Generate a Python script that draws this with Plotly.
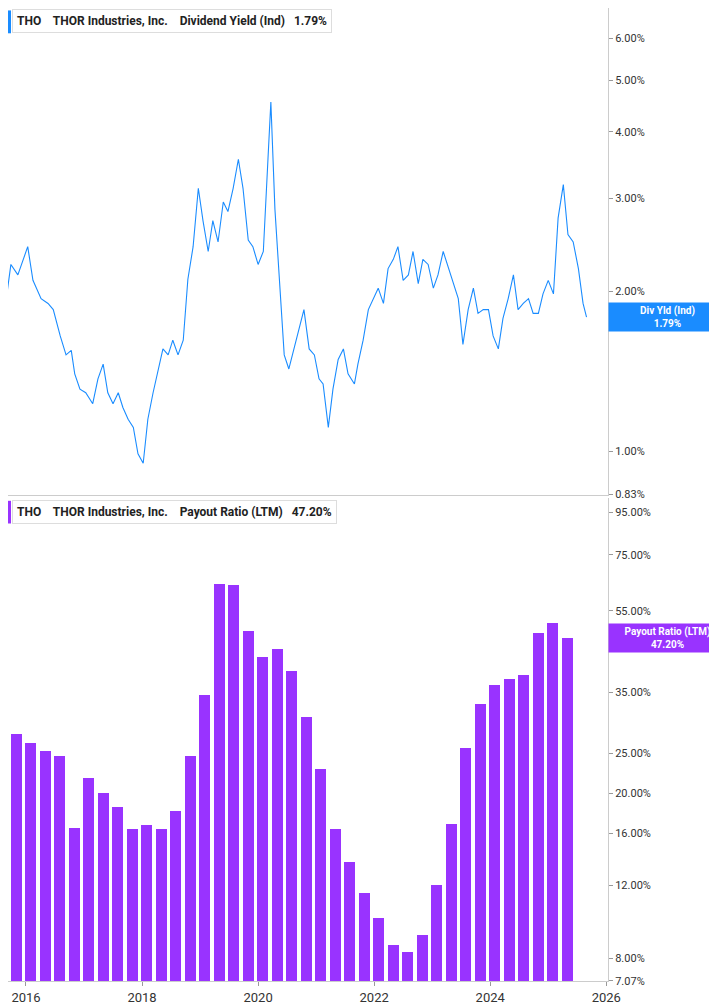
import plotly.graph_objects as go
from plotly.subplots import make_subplots

# dividend yield (%)
yield_dates = [2015.66, 2015.74, 2015.86, 2016.03, 2016.12, 2016.26, 2016.38, 2016.47, 2016.59, 2016.69,
               2016.78, 2016.84, 2016.93, 2017.03, 2017.15, 2017.24, 2017.33, 2017.41, 2017.50, 2017.59,
               2017.67, 2017.76, 2017.85, 2017.93, 2018.02, 2018.10, 2018.19, 2018.28, 2018.36, 2018.45,
               2018.53, 2018.62, 2018.71, 2018.79, 2018.88, 2018.97, 2019.05, 2019.14, 2019.22, 2019.31,
               2019.40, 2019.48, 2019.57, 2019.66, 2019.74, 2019.83, 2019.91, 2020.00, 2020.09, 2020.17,
               2020.22, 2020.29, 2020.38, 2020.45, 2020.53, 2020.62, 2020.71, 2020.79, 2020.88, 2020.97,
               2021.05, 2021.12, 2021.21, 2021.29, 2021.38, 2021.47, 2021.55, 2021.66, 2021.72, 2021.81,
               2021.90, 2021.98, 2022.07, 2022.16, 2022.24, 2022.33, 2022.41, 2022.50, 2022.59, 2022.67,
               2022.76, 2022.84, 2022.93, 2023.02, 2023.10, 2023.19, 2023.28, 2023.36, 2023.45, 2023.53,
               2023.62, 2023.71, 2023.79, 2023.88, 2023.97, 2024.05, 2024.14, 2024.22, 2024.31, 2024.40,
               2024.48, 2024.57, 2024.66, 2024.74, 2024.83, 2024.91, 2025.00, 2025.09, 2025.17, 2025.26,
               2025.34, 2025.43, 2025.52, 2025.60, 2025.66]
yield_pct = [1.94, 2.25, 2.15, 2.43, 2.10, 1.94, 1.90, 1.85, 1.65, 1.52,
             1.55, 1.40, 1.31, 1.29, 1.23, 1.37, 1.46, 1.29, 1.23, 1.29,
             1.21, 1.15, 1.11, 0.99, 0.95, 1.15, 1.29, 1.43, 1.56, 1.52,
             1.62, 1.52, 1.62, 2.11, 2.43, 3.13, 2.72, 2.38, 2.72, 2.48,
             2.95, 2.83, 3.13, 3.55, 3.13, 2.50, 2.43, 2.25, 2.38, 3.55,
             4.55, 2.86, 2.03, 1.52, 1.43, 1.56, 1.70, 1.85, 1.56, 1.52,
             1.37, 1.34, 1.11, 1.31, 1.49, 1.56, 1.40, 1.34, 1.46, 1.62,
             1.85, 1.94, 2.03, 1.90, 2.21, 2.30, 2.43, 2.10, 2.15, 2.38,
             2.07, 2.30, 2.25, 2.03, 2.15, 2.38, 2.21, 2.07, 1.94, 1.59,
             1.85, 2.03, 1.82, 1.85, 1.85, 1.65, 1.56, 1.78, 1.94, 2.15,
             1.85, 1.90, 1.94, 1.82, 1.82, 1.98, 2.10, 1.98, 2.75, 3.18,
             2.56, 2.48, 2.21, 1.90, 1.79]

# payout ratio (%), quarterly
payout_dates = [2015.83 + 0.25 * i for i in range(39)]
payout_pct = [27.7, 26.3, 25.2, 24.5, 16.5, 21.7, 20.0, 18.5, 16.4, 16.7,
              16.4, 18.1, 24.6, 34.5, 63.5, 63.2, 49.2, 42.4, 44.5, 39.4,
              30.5, 22.8, 16.4, 13.6, 11.5, 10.0, 8.6, 8.3, 9.1, 12.0,
              16.8, 25.6, 32.8, 36.3, 37.7, 38.4, 48.4, 51.4, 47.2]

top_ticks = [0.83, 1, 2, 3, 4, 5, 6]
bot_ticks = [7.07, 8, 12, 16, 20, 25, 35, 55, 75, 95]
year_ticks = [2016, 2018, 2020, 2022, 2024, 2026]

BLUE = "#1a8cff"
PURPLE = "#9933ff"

fig = make_subplots(rows=2, cols=1, shared_xaxes=True)
fig.add_trace(go.Scatter(x=yield_dates, y=yield_pct, mode="lines",
                         line=dict(color=BLUE, width=1.1)), row=1, col=1)
fig.add_trace(go.Bar(x=payout_dates, y=payout_pct, width=0.19,
                     marker=dict(color=PURPLE, line_width=0)), row=2, col=1)

fig.update_xaxes(range=[2015.69, 2026.03], tickvals=year_ticks, showgrid=False,
                 zeroline=False, showline=True, linecolor="#cccccc", ticks="outside",
                 ticklen=4, tickcolor="#999", tickfont=dict(size=13, color="#333"))
fig.update_xaxes(showticklabels=False, ticks="", row=1, col=1)

axis_common = dict(type="log", side="right", showgrid=False, zeroline=False,
                   showline=True, linecolor="#cccccc", ticks="outside", ticklen=4,
                   tickcolor="#999", tickfont=dict(size=11, color="#333"))
fig.update_yaxes(**axis_common, range=[-0.081, 0.835], tickvals=top_ticks, domain=[0.5, 1],
                 ticktext=[f"{v:.2f}%" for v in top_ticks], row=1, col=1)
fig.update_yaxes(**axis_common, range=[0.849, 2.011], tickvals=bot_ticks, domain=[0, 0.496],
                 ticktext=[f"{v:.2f}%" for v in bot_ticks], row=2, col=1)

# header boxes
for yref, title, color in [("y domain", "Dividend Yield (Ind)   1.79%", BLUE),
                           ("y2 domain", "Payout Ratio (LTM)   47.20%", PURPLE)]:
    fig.add_annotation(xref="paper", yref=yref, x=0.006, y=0.997, xanchor="left", yanchor="top",
                       text=f"<b>THO    THOR Industries, Inc.    {title}</b>", showarrow=False,
                       font=dict(size=12, color="#222"), bgcolor="white",
                       bordercolor="#dddddd", borderwidth=1, borderpad=4)
    fig.add_shape(type="rect", xref="paper", yref=yref, x0=0.0, x1=0.005,
                  y0=0.948, y1=0.995, fillcolor=color, line_width=0)

# value tags on right axis
fig.add_annotation(xref="paper", yref="y", x=1.0, y=0.253, xanchor="left", showarrow=False,
                   text="<b>Div Yld (Ind)<br>1.79%</b>", font=dict(size=10, color="white"),
                   bgcolor=BLUE, width=115, height=26, borderpad=1)
fig.add_annotation(xref="paper", yref="y2", x=1.0, y=1.674, xanchor="left", showarrow=False,
                   text="<b>Payout Ratio (LTM)<br>47.20%</b>", font=dict(size=10, color="white"),
                   bgcolor=PURPLE, width=115, height=26, borderpad=1)

fig.update_layout(width=717, height=1005, margin=dict(l=0, r=117, t=0, b=32),
                  plot_bgcolor="white", paper_bgcolor="white", showlegend=False,
                  bargap=0, font=dict(family="Roboto, Arial, sans-serif"))

fig.write_html("out.html")
